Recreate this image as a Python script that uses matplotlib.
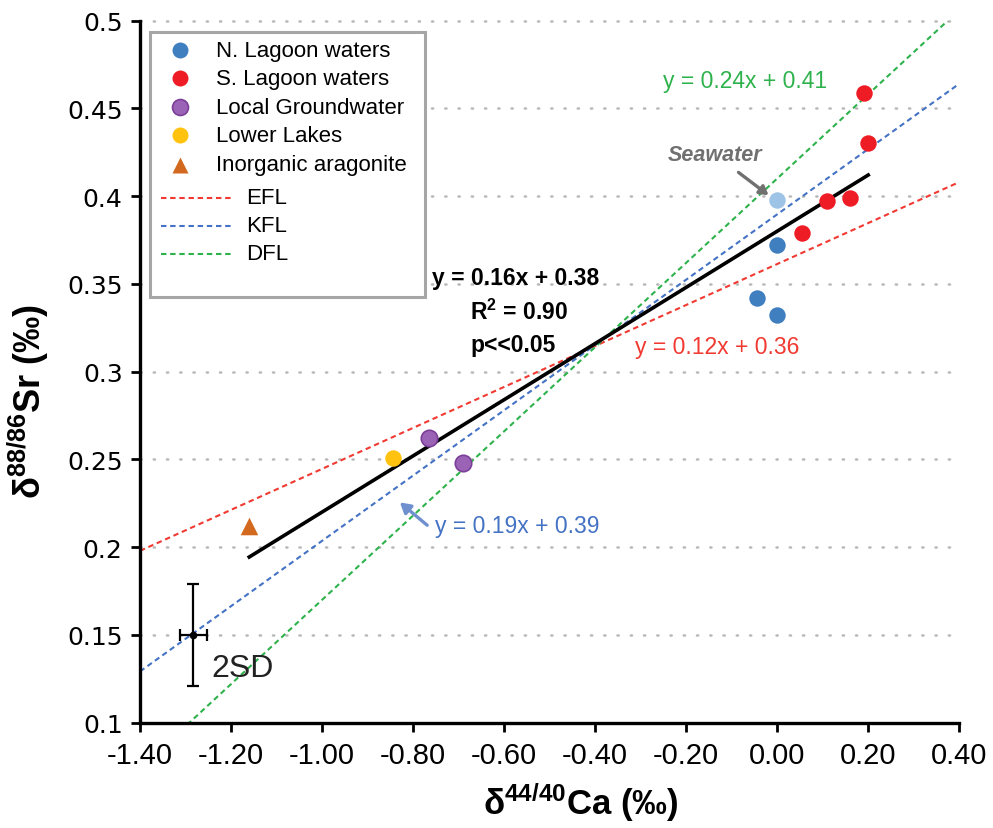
import matplotlib
matplotlib.use("Agg")
import matplotlib.pyplot as plt
from matplotlib.lines import Line2D
from matplotlib.patches import Rectangle

# --- data -------------------------------------------------------------
n_lagoon_ca = [0.00, -0.045, 0.00]
n_lagoon_sr = [0.372, 0.342, 0.332]

seawater_ca = [0.00]
seawater_sr = [0.398]

s_lagoon_ca = [0.19, 0.20, 0.11, 0.16, 0.055]
s_lagoon_sr = [0.459, 0.430, 0.397, 0.399, 0.379]

groundwater_ca = [-0.765, -0.69]
groundwater_sr = [0.262, 0.248]

lower_lakes_ca = [-0.845]
lower_lakes_sr = [0.251]

aragonite_ca = [-1.16]
aragonite_sr = [0.212]

# fractionation lines (slope, intercept)
efl = (0.1167, 0.3613)
kfl = (0.186, 0.3896)
dfl = (0.240, 0.410)

# regression through all samples
fit = (0.16, 0.38)
fit_range = [-1.16, 0.20]
fit_r2 = 0.90

# 2SD reproducibility
sd_ca, sd_sr = -1.283, 0.150
sd_err_ca, sd_err_sr = 0.030, 0.029

x_ticks = [-1.40, -1.20, -1.00, -0.80, -0.60, -0.40, -0.20, 0.00, 0.20, 0.40]
y_ticks = [0.1, 0.15, 0.2, 0.25, 0.3, 0.35, 0.4, 0.45, 0.5]

# --- style ------------------------------------------------------------
plt.rcParams["font.family"] = ["Liberation Sans", "DejaVu Sans"]
plt.rcParams["mathtext.fontset"] = "custom"
plt.rcParams["mathtext.rm"] = "Liberation Sans"
plt.rcParams["mathtext.it"] = "Liberation Sans:italic"
plt.rcParams["mathtext.bf"] = "Liberation Sans:bold"

C_N = "#3f7fbf"
C_SEA = "#9dc3e6"
C_S = "#ee1c25"
C_GW = "#9b63b5"
C_GW_EDGE = "#7b3f98"
C_LL = "#ffc20e"
C_AR = "#d2691e"
C_EFL = "#f03a32"
C_KFL = "#4472c4"
C_DFL = "#2eb24c"
DASH = (0, (2.6, 1.8))
DASH_LW = 1.5

W, H = 993, 829
fig = plt.figure(figsize=(W / 100, H / 100), dpi=100)
ax = fig.add_axes([0.141, 0.127, 0.825, 0.847])

xmin, xmax = -1.40, 0.40
ax.set_xlim(xmin, xmax)
ax.set_ylim(0.1, 0.5)

# dotted grid
for yv in y_ticks[1:]:
    ax.axhline(yv, color="#b8b8b8", lw=1.8, ls=(0, (0.5, 4.8)), zorder=0,
               dash_capstyle="round", clip_on=False)

# dashed fractionation lines
xs = [xmin, xmax]
for (m, b), col in ((efl, C_EFL), (kfl, C_KFL), (dfl, C_DFL)):
    ax.plot(xs, [m * x + b for x in xs], ls=DASH, color=col, lw=DASH_LW, zorder=2)

# regression line
ax.plot(fit_range, [fit[0] * x + fit[1] for x in fit_range], color="black", lw=2.6, zorder=3)

ms = 140
ax.scatter(n_lagoon_ca, n_lagoon_sr, s=ms, color=C_N, zorder=4, linewidths=0)
ax.scatter(seawater_ca, seawater_sr, s=ms, color=C_SEA, zorder=4, linewidths=0)
ax.scatter(s_lagoon_ca, s_lagoon_sr, s=ms, color=C_S, zorder=4, linewidths=0)
ax.scatter(groundwater_ca, groundwater_sr, s=ms, color=C_GW, edgecolor=C_GW_EDGE,
           linewidths=1.2, zorder=4)
ax.scatter(lower_lakes_ca, lower_lakes_sr, s=ms, color=C_LL, zorder=4, linewidths=0)
ax.scatter(aragonite_ca, aragonite_sr, s=160, marker="^", color=C_AR, zorder=4, linewidths=0)

# 2SD error bar
ax.errorbar([sd_ca], [sd_sr], xerr=[sd_err_ca], yerr=[sd_err_sr], fmt="o", color="black",
            ms=4.5, capsize=4.5, capthick=1.6, elinewidth=1.6, zorder=4)
ax.text(-1.243, 0.131, "2SD", fontsize=23, color="#222222", va="center", ha="left")

# equation labels
def eq(m, b):
    return f"y = {m:.2f}x + {b:.2f}"

ax.text(-0.070, 0.466, eq(*dfl), color=C_DFL, fontsize=16.5, ha="center", va="center")
ax.text(-0.312, 0.3145, eq(*efl), color=C_EFL, fontsize=16.5, ha="left", va="center")
ax.text(-0.752, 0.2125, eq(*kfl), color=C_KFL, fontsize=16.5, ha="left", va="center")
ax.annotate("", xy=(-0.829, 0.2255), xytext=(-0.769, 0.2125),
            arrowprops=dict(arrowstyle="-|>,head_width=0.35,head_length=0.6",
                            color="#6f8fcf", lw=2.4, shrinkA=0, shrinkB=0))

ax.text(-0.758, 0.3535, eq(*fit), color="black", fontsize=16.5, fontweight="bold",
        ha="left", va="center")
ax.text(-0.675, 0.3345, r"R$^{\mathbf{2}}$ = " + f"{fit_r2:.2f}", color="black", fontsize=16.5,
        fontweight="bold", ha="left", va="center")
ax.text(-0.675, 0.3155, "p<<0.05", color="black", fontsize=16.5, fontweight="bold",
        ha="left", va="center")

ax.text(-0.136, 0.4235, "Seawater", color="#707070", fontsize=15.5, fontweight="bold",
        fontstyle="italic", ha="center", va="center")
ax.annotate("", xy=(-0.019, 0.4005), xytext=(-0.085, 0.4135),
            arrowprops=dict(arrowstyle="-|>,head_width=0.3,head_length=0.5",
                            color="#707070", lw=2.4, shrinkA=0, shrinkB=0))

# axes styling
for side in ("top", "right"):
    ax.spines[side].set_visible(False)
for side in ("left", "bottom"):
    ax.spines[side].set_linewidth(2.4)
ax.set_xticks(x_ticks)
ax.set_xticklabels([f"{v:.2f}" for v in x_ticks], fontsize=21)
ax.set_yticks(y_ticks)
ax.set_yticklabels([f"{v:g}" for v in y_ticks], fontsize=18, family="DejaVu Sans")
ax.tick_params(axis="both", direction="out", length=6.5, width=2, color="black")
ax.tick_params(axis="x", pad=7)
ax.tick_params(axis="y", pad=6)

ax.set_xlabel(r"δ$^{\mathbf{44/40}}$Ca (‰)", fontsize=25, fontweight="bold")
ax.xaxis.set_label_coords((581 - 140) / 819, -(803 - 724) / 702)
ax.xaxis.label.set_va("center")
ax.set_ylabel(r"δ$^{\mathbf{88/86}}$Sr (‰)", fontsize=26, fontweight="bold")
ax.yaxis.set_label_coords(-(140 - 28) / 819, (724 - 402) / 702)
ax.yaxis.label.set_va("center")


# legend panel, placed in figure pixel units
def fp(px, py):
    return px / W, 1 - py / H


tf = fig.transFigure
x0, y0 = fp(150, 298)
x1, y1 = fp(425, 33)
ax.add_patch(Rectangle((x0, y0), x1 - x0, y1 - y0, transform=tf, facecolor="white",
                       edgecolor="#a6a6a6", lw=2.2, zorder=10, clip_on=False))

marker_rows = [
    ("N. Lagoon waters", dict(marker="o", color=C_N, mec="none"), 51),
    ("S. Lagoon waters", dict(marker="o", color=C_S, mec="none"), 79),
    ("Local Groundwater", dict(marker="o", color=C_GW, mec=C_GW_EDGE, mew=1.2), 108),
    ("Lower Lakes", dict(marker="o", color=C_LL, mec="none"), 136),
    ("Inorganic aragonite", dict(marker="^", color=C_AR, mec="none"), 166),
]
for label, style, py in marker_rows:
    ax.add_line(Line2D([fp(180, py)[0]], [fp(180, py)[1]], ls="none", ms=11.5,
                       transform=tf, zorder=11, clip_on=False, **style))
    ax.text(*fp(216, py), label, transform=tf, fontsize=16, ha="left", va="center",
            zorder=11, clip_on=False)

line_rows = [("EFL", C_EFL, 199), ("KFL", C_KFL, 227), ("DFL", C_DFL, 255)]
for label, col, py in line_rows:
    (lx0, ly), (lx1, _) = fp(161, py), fp(231, py)
    ax.add_line(Line2D([lx0, lx1], [ly, ly], ls=DASH, color=col, lw=DASH_LW,
                       transform=tf, zorder=11, clip_on=False))
    ax.text(*fp(246, py), label, transform=tf, fontsize=16, ha="left", va="center",
            zorder=11, clip_on=False)

fig.savefig("out.png", dpi=100)
